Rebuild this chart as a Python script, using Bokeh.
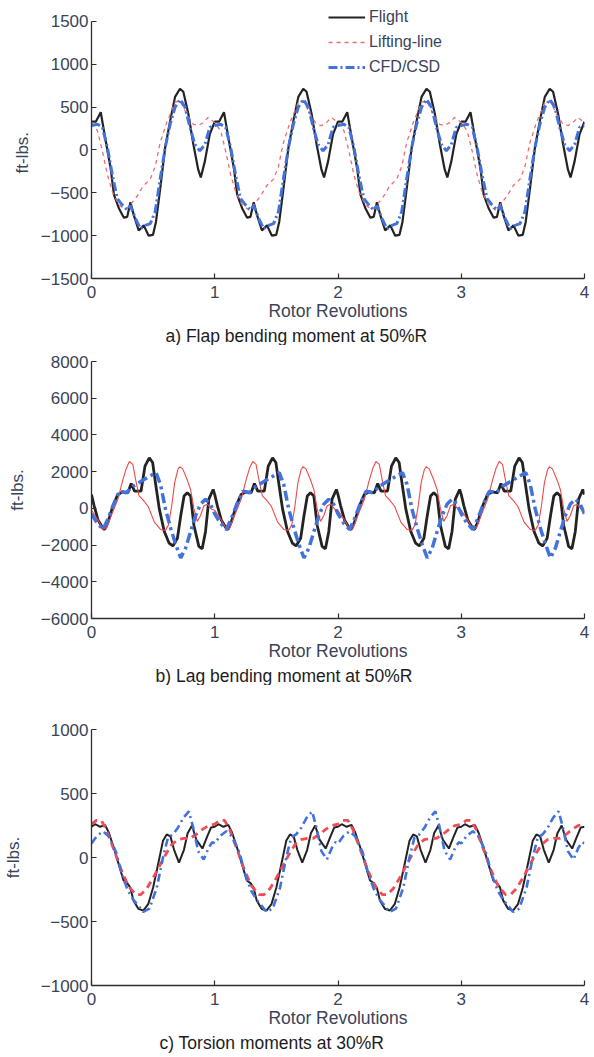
import numpy as np
from bokeh.plotting import figure
from bokeh.layouts import column
from bokeh.models import Range1d, FixedTicker, Title, Legend, LegendItem
from bokeh.embed import file_html
from bokeh.resources import INLINE

# ---------------- data (one rotor revolution) ----------------
N_REV = 4
x_ticks = [0, 1, 2, 3, 4]

# a) Flap bending moment at 50%R  (ft-lbs.)
flap_flight_phase = [0.00, 0.035, 0.075, 0.115, 0.155, 0.182, 0.222, 0.263, 0.29, 0.316, 0.343, 0.383,
                     0.424, 0.464, 0.499, 0.523, 0.558, 0.598, 0.638, 0.678, 0.718, 0.745, 0.786, 0.826,
                     0.866, 0.887, 0.92, 0.96]
flap_flight = [330, 330, 440, 110, -210, -520, -680, -790, -780, -610, -760, -940,
               -880, -1000, -990, -840, -445, 30, 340, 620, 715, 680, 420, 70,
               -230, -320, -130, 185]
flap_ll_phase = [0.00, 0.048, 0.088, 0.129, 0.169, 0.222, 0.276, 0.316, 0.37, 0.42, 0.477, 0.517,
                 0.557, 0.61, 0.678, 0.718, 0.772, 0.826, 0.866, 0.906, 0.946]
flap_ll = [320, 225, -10, -290, -485, -640, -700, -640, -540, -420, -340, -190,
           85, 320, 555, 580, 420, 300, 285, 320, 380]
flap_cfd_phase = [0.00, 0.048, 0.088, 0.129, 0.169, 0.209, 0.249, 0.29, 0.316, 0.357, 0.397, 0.437,
                  0.477, 0.517, 0.558, 0.598, 0.638, 0.678, 0.718, 0.759, 0.799, 0.839, 0.879, 0.92, 0.96]
flap_cfd = [285, 300, 265, 30, -290, -565, -640, -700, -650, -800, -920, -880,
            -860, -720, -330, 30, 300, 500, 590, 500, 265, 65, -10, 65, 265]

# b) Lag bending moment at 50%R
lag_flight_phase = [0.00, 0.021, 0.054, 0.094, 0.107, 0.134, 0.174, 0.214, 0.255, 0.295, 0.322, 0.349,
                    0.402, 0.434, 0.469, 0.496, 0.523, 0.55, 0.59, 0.63, 0.66, 0.697, 0.724, 0.751,
                    0.777, 0.804, 0.831, 0.871, 0.898, 0.925, 0.952, 0.987]
lag_flight = [750, 150, -650, -1100, -1150, -750, 140, 760, 900, 850, 1350, 940,
              940, 2300, 2750, 2500, 1200, -30, -1250, -1900, -2050, -1630, -400, 670,
              850, 670, -920, -2070, -2200, -1270, 500, 1030]
lag_ll_phase = [0.00, 0.054, 0.094, 0.121, 0.161, 0.214, 0.255, 0.282, 0.308, 0.335, 0.36, 0.385,
                0.42, 0.46, 0.51, 0.56, 0.60, 0.625, 0.65, 0.675, 0.70, 0.715, 0.74, 0.78,
                0.805, 0.831, 0.858, 0.885, 0.912, 0.94, 0.975]
lag_ll = [-100, -650, -1130, -1100, -390, 500, 1560, 2180, 2550, 2400, 1500, 700,
          450, 100, -750, -1150, -1200, -900, 100, 1400, 2100, 2270, 2150, 1500,
          1000, -30, -710, -390, 140, 230, -50]
lag_cfd_phase = [0.00, 0.045, 0.094, 0.134, 0.174, 0.228, 0.282, 0.335, 0.402, 0.469, 0.523, 0.56,
                 0.60, 0.643, 0.684, 0.724, 0.764, 0.804, 0.845, 0.885, 0.925, 0.965]
lag_cfd = [-300, -800, -1150, -570, 140, 940, 850, 1200, 1470, 1740, 1950, 1300,
           -30, -1100, -1980, -2700, -2160, -1270, -390, 230, 500, 230]

# c) Torsion moments at 30%R
tor_flight_phase = [0.00, 0.03, 0.07, 0.11, 0.14, 0.18, 0.22, 0.26, 0.29, 0.315, 0.34, 0.38,
                    0.42, 0.46, 0.50, 0.54, 0.58, 0.61, 0.64, 0.67, 0.71, 0.75, 0.78, 0.815,
                    0.85, 0.90, 0.935, 0.97]
tor_flight = [240, 260, 240, 255, 195, 80, -50, -180, -200, -235, -335, -400,
              -415, -365, -235, -55, 130, 180, 165, 60, -40, 60, 190, 250,
              140, 70, 155, 235]
tor_ll_phase = [0.00, 0.04, 0.08, 0.12, 0.18, 0.24, 0.30, 0.36, 0.40, 0.45, 0.50, 0.55,
                0.60, 0.65, 0.70, 0.75, 0.80, 0.85, 0.90, 0.95]
tor_ll = [260, 290, 290, 220, 65, -95, -225, -290, -290, -240, -160, -70,
          20, 100, 140, 150, 150, 180, 220, 250]
tor_cfd_phase = [0.00, 0.045, 0.094, 0.14, 0.20, 0.25, 0.296, 0.34, 0.37, 0.42, 0.47, 0.53,
                 0.58, 0.62, 0.66, 0.70, 0.745, 0.79, 0.825, 0.865, 0.91, 0.95, 0.98]
tor_cfd = [110, 170, 205, 165, 40, -140, -260, -330, -365, -425, -400, -235,
           0, 155, 180, 230, 310, 360, 235, 50, -15, 75, 120]

series_labels = ["Flight", "Lifting-line", "CFD/CSD"]
y_label = "ft-lbs."
x_label = "Rotor Revolutions"
captions = ["a) Flap bending moment at 50%R",
            "b) Lag bending moment at 50%R",
            "c) Torsion moments at 30%R"]
y_ticks_a = [-1500, -1000, -500, 0, 500, 1000, 1500]
y_ticks_b = [-6000, -4000, -2000, 0, 2000, 4000, 6000, 8000]
y_ticks_c = [-1000, -500, 0, 500, 1000]


def tile(phase, vals):
    ph = np.asarray(phase, dtype=float)
    v = np.asarray(vals, dtype=float)
    xs = np.concatenate([ph + k for k in range(N_REV)] + [[float(N_REV)]])
    ys = np.concatenate([v] * N_REV + [[v[0]]])
    return xs, ys


FONT = "Liberation Sans"
TICK_COLOR = "#3a4358"
BLACK = "#232323"
BLUE = "#4272dc"
FRAME_LEFT = 89
FRAME_RIGHT = 584


def make_panel(height, top, bottom, yticks, y_top, caption, cap_offset,
               ylab_standoff, ylabel_as_title=None):
    p = figure(width=594, height=height,
               x_range=Range1d(0, 4), y_range=Range1d(yticks[0], y_top),
               output_backend="svg", toolbar_location=None,
               min_border_left=FRAME_LEFT, min_border_right=594 - FRAME_RIGHT,
               min_border_top=top, min_border_bottom=bottom)
    p.outline_line_color = None
    p.grid.visible = False
    p.background_fill_color = "white"
    p.border_fill_color = "white"

    for ax in (p.xaxis[0], p.yaxis[0]):
        ax.axis_line_color = "#2e2e2e"
        ax.axis_line_width = 1.3
        ax.major_tick_line_color = "#2e2e2e"
        ax.major_tick_line_width = 1.2
        ax.major_tick_in = 5
        ax.major_tick_out = 0
        ax.minor_tick_line_color = None
        ax.major_label_text_font = FONT
        ax.major_label_text_font_size = "17px"
        ax.major_label_text_color = TICK_COLOR
        ax.axis_label_text_font = FONT
        ax.axis_label_text_font_style = "normal"
        ax.axis_label_text_color = TICK_COLOR

    p.xaxis.ticker = FixedTicker(ticks=x_ticks)
    p.xaxis.major_label_standoff = 7
    p.xaxis.axis_label = x_label
    p.xaxis.axis_label_text_font_size = "17.5px"
    p.xaxis.axis_label_standoff = 0

    p.yaxis.ticker = FixedTicker(ticks=yticks)
    p.yaxis.bounds = (yticks[0], yticks[-1])
    p.yaxis.major_label_standoff = 3
    p.yaxis.major_label_overrides = {t: str(t).replace("-", "\u2212") for t in yticks}
    if ylabel_as_title is None:
        p.yaxis.axis_label = y_label
        p.yaxis.axis_label_text_font_size = "17px"
        p.yaxis.axis_label_standoff = ylab_standoff
    else:
        yt = Title(text=y_label, align="left", offset=ylabel_as_title, standoff=ylab_standoff,
                   text_font=FONT, text_font_size="17px", text_font_style="normal",
                   text_color=TICK_COLOR)
        p.add_layout(yt, "left")

    t = Title(text=caption, align="left", offset=cap_offset, standoff=0,
              text_font=FONT, text_font_size="17.5px", text_font_style="normal",
              text_color="#1c1c1c")
    p.add_layout(t, "below")
    return p


# ---------------- panel a ----------------
# frame extended a little above 1500 (axis line bounded) so the legend fits inside it
pa = make_panel(345, 3, 67, y_ticks_a, 1710, captions[0], 74, 12, ylabel_as_title=105)
x, y = tile(flap_flight_phase, flap_flight)
ra1 = pa.line(x, y, line_color=BLACK, line_width=2.2)
x, y = tile(flap_ll_phase, flap_ll)
ra2 = pa.line(x, y, line_color="#f26a72", line_width=1.3, line_dash="4 4")
x, y = tile(flap_cfd_phase, flap_cfd)
ra3 = pa.line(x, y, line_color=BLUE, line_width=3, line_dash="9 3 2 3")

legend = Legend(items=[LegendItem(label=series_labels[0], renderers=[ra1]),
                       LegendItem(label=series_labels[1], renderers=[ra2]),
                       LegendItem(label=series_labels[2], renderers=[ra3])],
                location=(237, 201), border_line_color=None, background_fill_alpha=0,
                padding=0, margin=0, spacing=5, glyph_width=37, glyph_height=20,
                label_height=20, label_standoff=4, label_text_font=FONT,
                label_text_font_size="16px", label_text_color=TICK_COLOR)
pa.add_layout(legend)

# ---------------- panel b ----------------
pb = make_panel(340, 16, 67, y_ticks_b, y_ticks_b[-1], captions[1], 64, 11)
x, y = tile(lag_flight_phase, lag_flight)
pb.line(x, y, line_color=BLACK, line_width=2.8)
x, y = tile(lag_ll_phase, lag_ll)
pb.line(x, y, line_color="#f04848", line_width=1.1)
x, y = tile(lag_cfd_phase, lag_cfd)
pb.line(x, y, line_color=BLUE, line_width=3.5, line_dash="10 4 3 4")

# ---------------- panel c ----------------
pc = make_panel(372, 44, 72, y_ticks_c, y_ticks_c[-1], captions[2], 68, 15)
x, y = tile(tor_flight_phase, tor_flight)
pc.line(x, y, line_color=BLACK, line_width=2.0)
x, y = tile(tor_ll_phase, tor_ll)
pc.line(x, y, line_color="#f04c58", line_width=2.8, line_dash="7 5")
x, y = tile(tor_cfd_phase, tor_cfd)
pc.line(x, y, line_color=BLUE, line_width=2.6, line_dash="8 4 2 4")

layout = column(pa, pb, pc, spacing=0)
open("out.html", "w").write(file_html(layout, INLINE))
